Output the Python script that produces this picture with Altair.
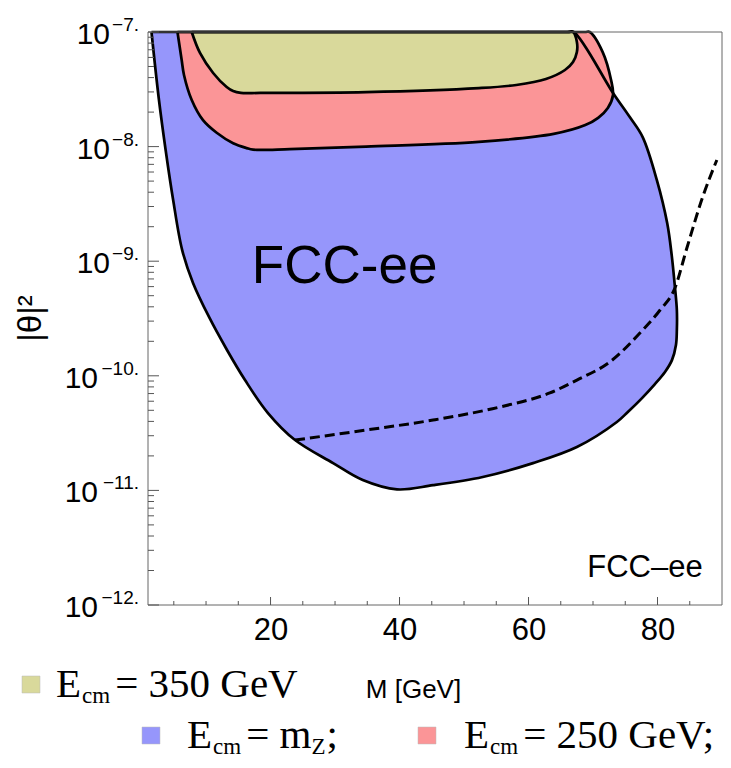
import altair as alt
import pandas as pd

# ---------------- data ----------------
region_keys = ["mZ", "250", "350"]
region_colors = ["#9696fb", "#fb9597", "#d9d99b"]

# E_cm = m_Z region (closed outline)
blue_M = [1.54, 66.0, 67.0, 73.1, 75.7, 77.7, 79.9, 81.5, 82.2, 82.7, 83.0, 83.0, 82.86, 82.24,
          81.16, 79.6, 77.6, 75.4, 73.7, 67.5, 60.7, 52.9, 45.2, 39.6, 34.3, 29.7, 23.8, 19.6,
          16.04, 13.25, 10.46, 7.98, 6.3, 4.9, 3.74, 2.7, 1.54]
blue_T = [1e-7, 1e-7, 1e-7, 2.94e-8, 1.81e-8, 1.21e-8, 5.1e-9, 2.15e-9, 1.13e-9, 5.96e-10,
          3.75e-10, 2.51e-10, 1.86e-10, 1.37e-10, 1.08e-10, 8.47e-11, 6.39e-11, 4.83e-11,
          3.95e-11, 2.39e-11, 1.73e-11, 1.31e-11, 1.11e-11, 1.02e-11, 1.23e-11, 1.73e-11,
          2.75e-11, 4.73e-11, 9.18e-11, 1.68e-10, 3.26e-10, 6.46e-10, 1.25e-9, 3.42e-9, 9.3e-9,
          2.55e-8, 1e-7]

# E_cm = 250 GeV region
red_M = [5.57, 68.7, 69.5, 71.5, 72.8, 73.1, 72.3, 70.8, 68.8, 63.9, 52.3, 34.8, 23.0, 17.3, 16.3,
         14.2, 11.65, 9.5, 7.78, 6.58, 6.22, 5.57]
red_T = [1e-7, 1e-7, 1e-7, 6.68e-8, 3.81e-8, 2.82e-8, 2.17e-8, 1.78e-8, 1.54e-8, 1.29e-8, 1.10e-8,
         1.0e-8, 9.5e-9, 9.4e-9, 9.7e-9, 1.07e-8, 1.32e-8, 1.71e-8, 2.55e-8, 4.22e-8, 5.7e-8, 1e-7]

# E_cm = 350 GeV region
yel_M = [7.78, 66.2, 66.9, 67.5, 67.5, 66.9, 65.65, 62.7, 58.1, 52.3, 34.8, 18.4, 15.4, 14.2, 13.2,
         11.1, 9.06, 7.78]
yel_T = [1e-7, 1e-7, 1e-7, 8.18e-8, 6.68e-8, 5.47e-8, 4.66e-8, 3.89e-8, 3.45e-8, 3.24e-8, 2.99e-8,
         2.94e-8, 2.94e-8, 3.05e-8, 3.31e-8, 4.39e-8, 6.56e-8, 1e-7]

# dashed curve
dash_M = [23.8, 34.95, 45.2, 55.6, 63.3, 67.5, 72.6, 77.7, 80.4, 82.7, 84.6, 87.0, 89.2]
dash_T = [2.75e-11, 3.37e-11, 4.11e-11, 5.35e-11, 7.08e-11, 9.18e-11, 1.32e-10, 2.51e-10,
          3.75e-10, 5.83e-10, 1.33e-9, 3.63e-9, 7.64e-9]

# annotations
big_label = "FCC-ee"
big_label_M, big_label_T = [17.1], [6.46e-10]
corner_label = "FCC\u2013ee"
corner_label_M, corner_label_T = [87.0], [1.75e-12]

# axes
x_tick_values = [20, 40, 60, 80]
x_minor_values = [5, 10, 15, 25, 30, 35, 45, 50, 55, 65, 70, 75, 85]
y_tick_values_1 = [1e-9, 1e-8, 1e-7]          # one-digit exponents
y_exp_labels_1 = ["\u22129.", "\u22128.", "\u22127."]
y_tick_values_2 = [1e-12, 1e-11, 1e-10]       # two-digit exponents
y_exp_labels_2 = ["\u221212.", "\u221211.", "\u221210."]
y_tick_values = y_tick_values_2 + y_tick_values_1
y_minor_values = [k * 10.0 ** e for e in range(-12, -7) for k in range(2, 10)]
x_title = "M [GeV]"
y_title = "|\u03b8|\u00b2"

# legend pieces
legend_colors = [region_colors[2], region_colors[0], region_colors[1]]
legend_sub = ["cm", "cm", "cm"]
legend_rest = ["= 350 GeV", "= m", "= 250 GeV;"]
legend_rest_sub = ["", "Z", ""]
legend_tail = ["", ";", ""]

# ---------------- build tables ----------------
rows = []
for key, Ms, Ts in zip(region_keys, [blue_M, red_M, yel_M], [blue_T, red_T, yel_T]):
    for i, (m, t) in enumerate(zip(Ms, Ts)):
        rows.append({"region": key, "idx": i, "M": m, "T": t})
regions = pd.DataFrame(rows)
dashed = pd.DataFrame({"M": dash_M, "T": dash_T})

W, H = 574, 573
PAD_L, PAD_T, PAD_R, PAD_B = 140, 24, 1, 155

xscale = alt.Scale(domain=[1, 90], nice=False, zero=False)
yscale = alt.Scale(type="log", domain=[1e-12, 1e-7], nice=False)

xaxis = alt.Axis(values=x_tick_values, ticks=False, domain=False, grid=False,
                 labelFont="Liberation Sans", labelFontSize=31, labelColor="black",
                 labelPadding=10, labelFlush=False, title=x_title,
                 titleFont="Liberation Sans", titleFontSize=26, titleFontWeight="normal",
                 titleColor="black", titleX=265, titleY=92, titleBaseline="alphabetic",
                 titleAlign="center", zindex=1)
yaxis = alt.Axis(values=y_tick_values, labels=False, ticks=False, domain=False,
                 grid=False, title=y_title,
                 titleFont="Liberation Sans", titleFontSize=33, titleFontWeight="normal",
                 titleColor="black", titleAngle=270, titleX=-108, titleY=286,
                 titleBaseline="alphabetic", titleAlign="center", zindex=1)


def X():
    return alt.X("M:Q", scale=xscale, axis=xaxis)


def Y():
    return alt.Y("T:Q", scale=yscale, axis=yaxis)


one = alt.Chart(pd.DataFrame({"a": [0]}))
layers = []

# filled regions
for key, col in zip(region_keys, region_colors):
    layers.append(alt.Chart(regions).transform_filter(alt.datum.region == key)
                  .mark_line(fill=col, stroke=col, strokeWidth=0.5, interpolate="catmull-rom",
                             clip=True)
                  .encode(x=X(), y=Y(), order="idx:Q"))

# dashed curve
layers.append(alt.Chart(dashed).mark_line(color="black", strokeWidth=3, strokeDash=[10, 5],
                                          interpolate="monotone")
              .encode(x=X(), y=Y()))

# outlines
layers.append(alt.Chart(regions).mark_line(color="black", strokeWidth=2.7, strokeJoin="round",
                                           interpolate="catmull-rom")
              .encode(x=X(), y=Y(), detail="region:N", order="idx:Q"))

# frame
layers.append(one.mark_rect(filled=False, stroke="#666666", strokeWidth=1, clip=False).encode(
    x=alt.value(0), x2=alt.value(W), y=alt.value(0), y2=alt.value(H)))

# ticks (pointing inwards)
tick_color = "#555555"
layers.append(alt.Chart(pd.DataFrame({"T": y_tick_values})).mark_rule(color=tick_color)
              .encode(y=Y(), x=alt.value(0), x2=alt.value(11)))
layers.append(alt.Chart(pd.DataFrame({"T": y_minor_values})).mark_rule(color=tick_color)
              .encode(y=Y(), x=alt.value(0), x2=alt.value(6)))
layers.append(alt.Chart(pd.DataFrame({"M": x_tick_values})).mark_rule(color=tick_color)
              .encode(x=X(), y=alt.value(H), y2=alt.value(H - 8)))
layers.append(alt.Chart(pd.DataFrame({"M": x_minor_values})).mark_rule(color=tick_color)
              .encode(x=X(), y=alt.value(H), y2=alt.value(H - 4)))

# y tick labels: "10" with a raised exponent
for vals, exps, base_x in [(y_tick_values_1, y_exp_labels_1, -38),
                           (y_tick_values_2, y_exp_labels_2, -50)]:
    df = pd.DataFrame({"T": vals, "e": exps, "b": ["10"] * len(vals)})
    layers.append(alt.Chart(df).mark_text(align="right", baseline="alphabetic",
                                          font="Liberation Sans", fontSize=30, color="black",
                                          dy=12, clip=False)
                  .encode(y=Y(), x=alt.value(base_x), text="b:N"))
    layers.append(alt.Chart(df).mark_text(align="right", baseline="alphabetic",
                                          font="Liberation Sans", fontSize=19, color="black",
                                          dy=-1, clip=False)
                  .encode(y=Y(), x=alt.value(-9), text="e:N"))

# annotations
layers.append(alt.Chart(pd.DataFrame({"M": big_label_M, "T": big_label_T, "t": [big_label]}))
              .mark_text(align="left", baseline="alphabetic", font="Liberation Sans",
                         fontSize=53, color="black")
              .encode(x=X(), y=Y(), text="t:N"))
layers.append(alt.Chart(pd.DataFrame({"M": corner_label_M, "T": corner_label_T,
                                      "t": [corner_label]}))
              .mark_text(align="right", baseline="alphabetic", font="Liberation Sans",
                         fontSize=31, color="black")
              .encode(x=X(), y=Y(), text="t:N"))

# legend (custom layout as in the original)
# (swatch left x, text left x, baseline y, subscript drop) relative to the plot origin
legend_pos = [(-126, -92, 665, 6), (-6, 39, 716, 6), (270, 316, 716, 6)]
FS, FSS = 41, 23


def txt(s, x, y, size):
    return one.mark_text(align="left", baseline="alphabetic", font="Liberation Serif",
                         fontSize=size, color="black", clip=False).encode(
        x=alt.value(x), y=alt.value(y), text=alt.value(s))


for (sx, ex, by, drop), col, sub, rest, rsub, tail in zip(legend_pos, legend_colors, legend_sub,
                                                          legend_rest, legend_rest_sub,
                                                          legend_tail):
    layers.append(one.mark_rect(color=col, stroke="#bbbbbb", strokeWidth=0.5, clip=False).encode(
        x=alt.value(sx), x2=alt.value(sx + 18), y=alt.value(by - 21), y2=alt.value(by - 4)))
    layers.append(txt("E", ex, by, FS))
    sub_x = ex + 0.611 * FS + 1
    layers.append(txt(sub, sub_x, by + drop, FSS))
    rx = sub_x + 1.222 * FSS + 5
    layers.append(txt(rest, rx, by, FS))
    if rsub:
        w_rest = 1.592 * FS
        layers.append(txt(rsub, rx + w_rest, by + drop, FSS))
        layers.append(txt(tail, rx + w_rest + 0.611 * FSS + 1, by, FS))

chart = alt.layer(*layers).properties(
    width=W, height=H,
    padding={"left": PAD_L, "top": PAD_T, "right": PAD_R, "bottom": PAD_B},
    autosize=alt.AutoSizeParams(type="none"),
    background="white",
).configure_view(strokeWidth=0, fill="white")

chart.save("out.html", embed_options={"renderer": "svg", "actions": False})
